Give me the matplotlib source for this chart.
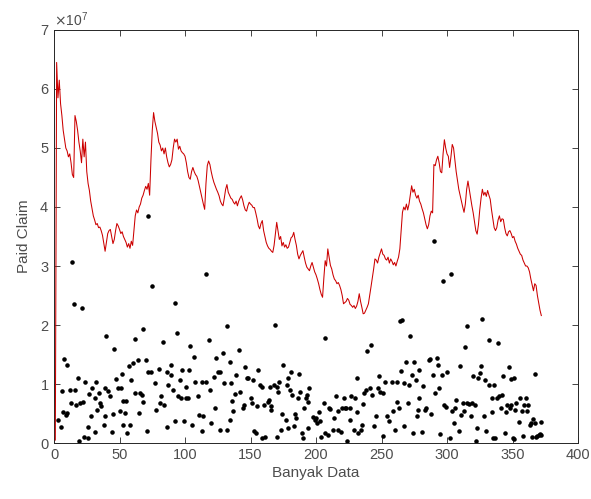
import numpy as np
import matplotlib
matplotlib.use("Agg")
import matplotlib.pyplot as plt
from matplotlib.ticker import ScalarFormatter

# --- data (values in units of 1e7) ---
# red line: one value per data index 1..372
line_vals = [
    0.05, 6.45, 5.85, 6.15, 5.75, 5.55, 5.30, 5.15, 5.00, 4.95,
    4.85, 4.90, 4.75, 4.55, 4.50, 5.55, 5.45, 5.30, 5.10, 4.95,
    4.75, 5.15, 4.85, 5.10, 4.60, 4.40, 4.28, 4.10, 3.98, 3.85,
    3.78, 3.70, 3.72, 3.65, 3.66, 3.60, 3.52, 3.38, 3.25, 3.40,
    3.55, 3.60, 3.62, 3.50, 3.38, 3.45, 3.60, 3.72, 3.68, 3.62,
    3.55, 3.58, 3.50, 3.45, 3.40, 3.32, 3.38, 3.30, 3.42, 3.35,
    3.60, 3.85, 3.95, 3.90, 4.00, 4.05, 4.15, 4.20, 4.28, 4.35,
    4.30, 4.40, 4.20, 4.80, 5.30, 5.60, 5.45, 5.35, 5.25, 5.10,
    5.05, 4.95, 5.00, 4.90, 5.00, 4.85, 4.75, 4.68, 4.72, 4.80,
    5.00, 5.15, 5.10, 5.15, 4.98, 5.03, 4.95, 4.92, 4.90, 4.86,
    4.75, 4.60, 4.50, 4.47, 4.60, 4.67, 4.60, 4.55, 4.52, 4.45,
    4.35, 4.25, 4.15, 4.05, 3.96, 4.40, 4.70, 4.78, 4.72, 4.60,
    4.50, 4.42, 4.36, 4.30, 4.25, 4.19, 4.10, 4.05, 4.02, 4.15,
    4.30, 4.38, 4.25, 4.20, 4.15, 4.13, 4.08, 4.05, 4.10, 4.02,
    4.10, 4.15, 4.19, 4.12, 4.02, 3.95, 3.93, 4.02, 4.08, 4.05,
    4.03, 3.99, 3.99, 3.90, 3.80, 3.68, 3.63, 3.72, 3.77, 3.60,
    3.50, 3.40, 3.34, 3.30, 3.28, 3.25, 3.23, 3.35, 3.55, 3.74,
    3.60, 3.45, 3.50, 3.34, 3.40, 3.32, 3.36, 3.30, 3.32, 3.40,
    3.48, 3.50, 3.57, 3.45, 3.35, 3.20, 3.12, 3.18, 3.22, 3.26,
    3.15, 3.05, 2.98, 2.95, 2.92, 3.00, 3.06, 2.98, 2.90, 2.85,
    2.78, 2.70, 2.60, 2.52, 2.47, 2.80, 3.09, 3.00, 3.29, 3.15,
    3.01, 2.95, 2.85, 2.78, 2.75, 2.70, 2.72, 2.67, 2.60, 2.50,
    2.36, 2.38, 2.40, 2.45, 2.42, 2.35, 2.33, 2.30, 2.33, 2.28,
    2.32, 2.40, 2.53, 2.40, 2.30, 2.19, 2.20, 2.25, 2.30, 2.36,
    2.50, 2.65, 2.80, 2.95, 3.12, 3.10, 3.05, 3.15, 3.22, 3.29,
    3.20, 3.18, 3.12, 3.10, 3.15, 3.05, 3.12, 3.08, 3.02, 3.06,
    3.00, 3.08, 3.15, 3.29, 3.60, 3.91, 4.00, 3.95, 4.05, 3.95,
    4.05, 4.20, 4.36, 4.25, 4.30, 4.20, 4.15, 4.20, 4.10, 4.05,
    3.97, 3.90, 3.80, 3.70, 3.63, 3.70, 3.85, 3.93, 3.90, 4.72,
    4.70, 4.80, 4.86, 4.75, 4.60, 4.58, 4.90, 5.14, 5.00, 4.90,
    4.86, 4.67, 4.85, 5.06, 5.00, 4.80, 4.60, 4.45, 4.30, 4.20,
    4.10, 4.00, 3.91, 4.05, 4.30, 4.44, 4.30, 4.15, 4.02, 3.90,
    3.75, 3.60, 3.54, 3.70, 3.95, 4.15, 4.30, 4.20, 4.25, 4.18,
    4.28, 4.20, 4.13, 3.95, 3.80, 3.65, 3.60, 3.65, 3.78, 3.85,
    3.75, 3.80, 3.79, 3.65, 3.55, 3.51, 3.58, 3.60, 3.55, 3.48,
    3.50, 3.42, 3.37, 3.30, 3.25, 3.20, 3.18, 3.10, 3.05, 3.00,
    3.00, 2.97, 2.90, 2.78, 2.68, 2.58, 2.70, 2.67, 2.50, 2.38,
    2.25, 2.16,
]

# black dots: data index and value
dot_x = [
    3, 5, 6, 7, 8, 9, 10, 10, 12, 13, 14, 15, 16, 18, 17, 19, 20, 21, 22, 23,
    24, 26, 26, 27, 28, 29, 31, 31, 32, 33, 34, 35, 36, 38, 39, 39, 40, 41, 43, 44,
    45, 46, 47, 49, 50, 51, 52, 53, 53, 54, 55, 56, 57, 58, 59, 60, 62, 62, 64, 65,
    66, 67, 68, 68, 70, 71, 72, 72, 74, 75, 77, 78, 80, 81, 82, 83, 84, 86, 86, 87,
    89, 89, 91, 92, 92, 94, 95, 96, 97, 98, 99, 101, 101, 102, 103, 104, 105, 107, 108, 110,
    111, 113, 113, 114, 116, 116, 118, 119, 120, 122, 123, 124, 125,
    127, 127, 129, 130, 132, 132, 134, 134, 135, 136, 137, 138, 139, 141, 142, 144, 145, 146,
    147, 148, 150, 151, 152, 153, 154, 155, 156, 157, 159, 159, 160, 161, 163, 164, 165, 166,
    166, 168, 169, 170, 170, 171, 172, 173, 174, 175, 177, 178, 179, 179, 180, 181, 182, 183,
    184, 185, 186, 187, 188, 189, 190, 191, 192, 193, 194, 194, 195, 198, 199, 200, 201, 202,
    203, 204, 206, 207, 207, 209, 210, 211, 213, 214, 215, 217, 217, 219, 220, 221, 222, 223,
    224, 226, 226, 227, 229, 230, 231, 231, 232, 234, 235, 236, 237, 238, 239, 241, 242, 243,
    244, 246, 247, 248, 249, 251, 251, 253, 254,
    256, 258, 259, 260, 262, 262, 263, 264, 266, 265, 267, 267, 269, 270, 271, 272, 273, 274,
    275, 276, 277, 278, 279, 279, 281, 282, 283, 284, 286, 287, 288, 289, 290, 291, 292, 293,
    294, 295, 296, 297, 298, 299, 300, 302, 303, 304, 305, 306, 307, 309, 310, 311, 312, 313,
    314, 315, 315, 317, 318, 319, 320, 321, 322, 323, 324, 325, 326, 327, 328, 329, 330, 332,
    332, 334, 334, 335, 336, 337, 338, 339, 340, 341, 342, 343, 344, 345, 346, 347, 348, 349,
    349, 350, 351, 351, 352, 353, 355, 356, 357, 358, 359, 360, 361, 362, 363, 364, 365, 366,
    367, 367, 368, 369, 370, 371, 372, 372,
]
dot_y = [
    0.39, 0.27, 0.88, 0.52, 1.43, 0.48, 1.32, 0.51, 0.90, 0.67, 3.06, 2.36, 0.90, 1.10, 0.65, 0.04, 0.68, 2.29, 0.70, 0.10,
    1.03, 0.27, 0.08, 0.83, 0.46, 0.93, 0.18, 0.76, 1.03, 0.56, 0.85, 0.67, 0.62, 0.31, 0.45, 0.93, 1.81, 0.88, 0.79, 0.18,
    0.49, 1.59, 1.08, 0.94, 0.55, 0.93, 1.17, 0.71, 0.31, 0.51, 0.72, 0.17, 1.31, 0.31, 1.07, 1.35, 1.77, 0.85, 1.41, 0.51,
    0.85, 0.82, 1.94, 0.70, 1.41, 0.20, 1.20, 3.84, 1.21, 2.66, 1.01, 0.56, 1.25, 0.67, 0.79, 1.71, 0.64, 0.27, 1.21, 0.98,
    1.33, 1.15, 0.89, 2.38, 0.38, 1.86, 0.79, 1.07, 0.76, 1.24, 0.37, 0.95, 0.76, 0.76, 1.24, 1.65, 0.31, 1.46, 1.03, 0.79,
    0.47, 1.04, 0.20, 0.45, 2.87, 1.04, 1.74, 0.89, 0.34, 1.12, 0.59, 1.44, 1.20,
    1.20, 0.22, 1.52, 1.01, 1.98, 0.22, 1.38, 0.39, 1.01, 0.72, 0.55, 0.83, 1.15, 1.57, 0.87, 0.59, 0.64, 1.29,
    1.11, 1.10, 0.77, 0.68, 1.07, 0.21, 0.17, 0.62, 1.23, 0.98, 0.08, 0.95, 0.64, 0.11, 0.69, 0.73, 0.95, 0.56,
    0.62, 0.98, 2.00, 0.95, 0.11, 0.87, 1.04, 0.22, 0.50, 1.33, 0.39, 0.98, 0.25, 1.10, 0.90, 1.20, 0.81, 0.28,
    0.50, 0.42, 0.76, 1.17, 0.87, 0.17, 0.08, 0.60, 0.76, 0.81, 0.70, 0.25, 0.94, 0.44, 0.39, 0.42, 0.34, 0.53,
    0.37, 0.11, 0.67, 1.78, 0.17, 0.14, 0.60, 0.57, 0.22, 0.43, 0.79, 0.55, 0.22, 0.19, 0.60, 0.77, 0.60, 0.60,
    0.03, 0.60, 0.39, 0.79, 0.22, 0.76, 0.53, 1.10, 0.17, 0.22, 0.31, 0.66, 0.85, 0.90, 1.56, 0.94, 1.66, 0.81,
    0.28, 0.45, 0.94, 1.14, 0.87, 0.12, 0.84, 1.04, 0.45,
    0.37, 1.04, 0.55, 0.22, 1.04, 0.69, 0.60, 2.07, 2.08, 1.22, 0.29, 1.01, 1.37, 0.68, 0.99, 1.81, 1.15, 0.17,
    1.38, 1.07, 0.45, 0.56, 0.77, 1.23, 0.18, 0.97, 0.56, 0.59, 1.40, 1.42, 0.50, 1.15, 3.43, 0.84, 1.44, 1.33,
    0.94, 0.15, 1.15, 2.75, 0.64, 0.61, 1.20, 0.08, 2.86, 0.55, 0.34, 0.59, 0.73, 0.20, 1.31, 0.47, 0.68, 0.55,
    1.62, 1.98, 0.68, 0.66, 0.45, 0.68, 1.13, 0.64, 0.03, 0.26, 1.11, 1.18, 1.31, 2.10, 0.45, 1.07, 0.21, 1.75,
    0.99, 0.77, 0.52, 0.08, 0.99, 0.08, 0.76, 1.69, 0.79, 0.59, 0.81, 1.13, 0.17, 0.52, 0.64, 1.29, 0.59, 0.64,
    1.08, 0.08, 0.06, 1.10, 0.56, 0.68, 0.35, 0.76, 0.55, 0.12, 0.64, 0.76, 0.55, 0.64, 0.31, 0.34, 0.10, 0.41,
    1.17, 0.34, 0.11, 0.12, 0.13, 0.15, 0.35, 0.13,
]

x_ticks = [0, 50, 100, 150, 200, 250, 300, 350, 400]
y_ticks = [0, 1, 2, 3, 4, 5, 6, 7]

line_x = np.arange(1, len(line_vals) + 1)
line_y = np.array(line_vals) * 1e7
dots_x = np.array(dot_x[:len(dot_y)])
dots_y = np.array(dot_y[:len(dot_x)]) * 1e7

# --- plot ---
plt.rcParams['font.family'] = ['Liberation Sans', 'DejaVu Sans']
dark = (0.15, 0.15, 0.15)
grey = (0.3, 0.3, 0.3)

fig = plt.figure(figsize=(5.91, 4.99), dpi=100)
ax = fig.add_axes([0.0914, 0.1122, 0.8866, 0.8277])

ax.plot(dots_x, dots_y, '.', color='black', markersize=4.5, zorder=2)
ax.plot(line_x, line_y, '-', color=(0.8, 0.0, 0.0), linewidth=0.75, zorder=3)

ax.set_xlim(0, 400)
ax.set_ylim(0, 7e7)
ax.set_xticks(x_ticks)
ax.set_yticks(np.array(y_ticks) * 1e7)

fmt = ScalarFormatter(useMathText=True)
fmt.set_powerlimits((0, 0))
ax.yaxis.set_major_formatter(fmt)
ax.yaxis.get_offset_text().set_fontsize(10)
ax.yaxis.get_offset_text().set_color(grey)

ax.tick_params(direction='in', top=True, right=True, length=4, width=0.6,
               labelsize=10.5, colors=dark, labelcolor=grey)
for s in ax.spines.values():
    s.set_color(dark)
    s.set_linewidth(0.7)

ax.set_xlabel('Banyak Data', fontsize=11, color=grey, labelpad=3)
ax.set_ylabel('Paid Claim', fontsize=11, color=grey, labelpad=6)

fig.savefig('out.png', dpi=100)
